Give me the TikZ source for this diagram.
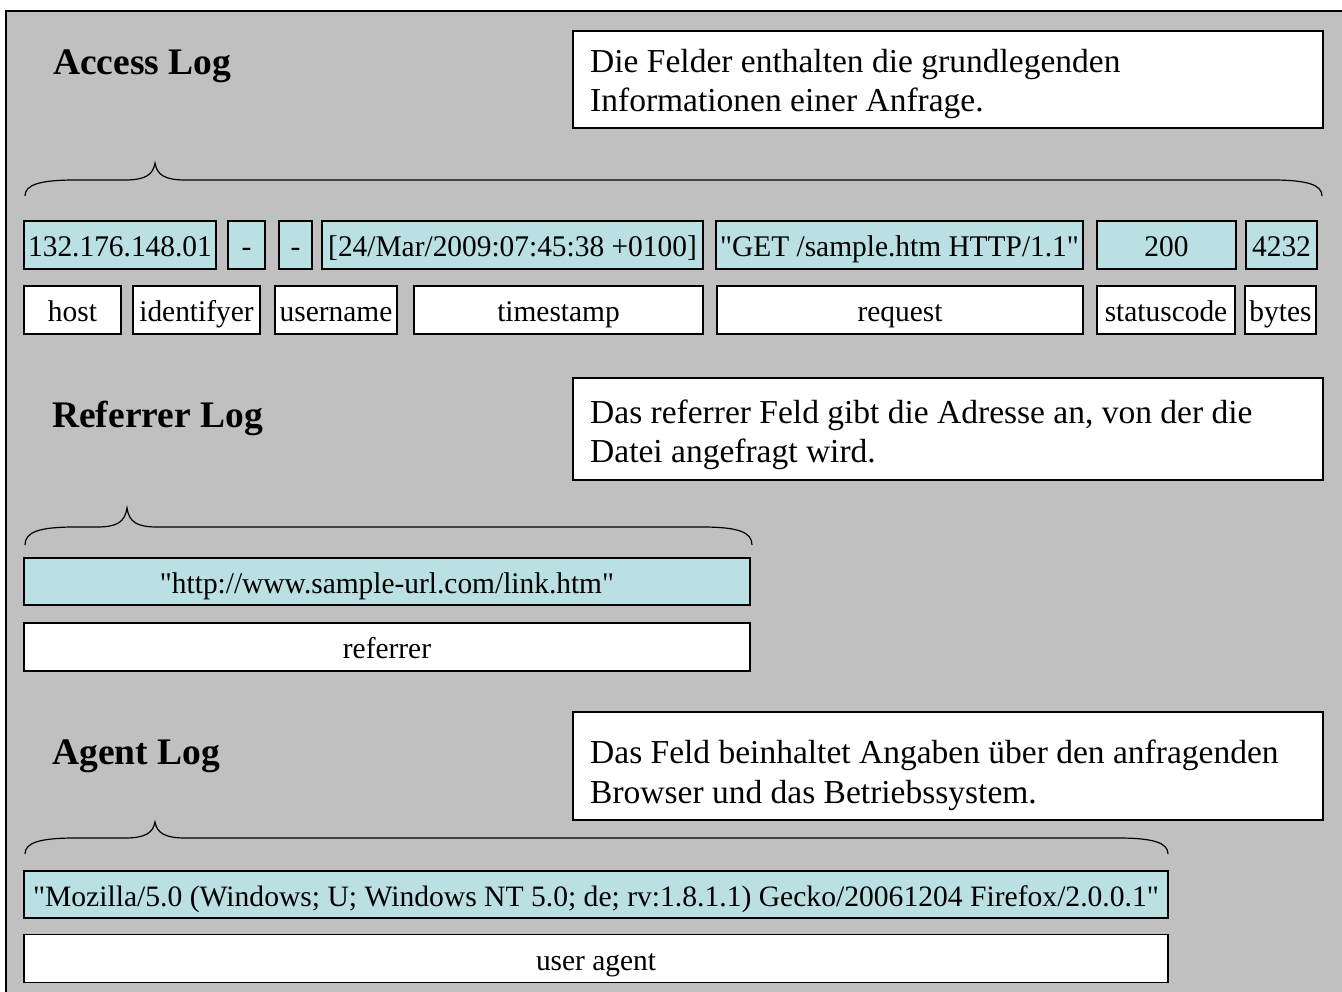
\documentclass[tikz,border=0pt]{standalone}
\usepackage{fontspec}
\setmainfont{Liberation Serif}
\newfontfamily\lblfamily[FakeStretch=0.98]{Liberation Serif}
\newfontfamily\widefamily{Liberation Serif}
\definecolor{framegray}{RGB}{192,192,192}
\definecolor{cyanbg}{RGB}{187,224,227}
\newcommand\lblfont{\lblfamily\fontsize{30}{34}\selectfont}
\newcommand\widelblfont{\widefamily\fontsize{29.6}{34}\selectfont}
\newcommand\dscfont{\fontsize{33.5}{39}\selectfont}
\newcommand\ttlfont{\bfseries\fontsize{37.5}{42}\selectfont}
\newcommand\logbrace[6]{%
  \draw[bracestyle] (#1,#6) .. controls (#1,#5+5) and (#1+14,#5) .. (#1+50,#5)
    -- (#3-30,#5) .. controls (#3-10,#5) and (#3-2,#5-5) .. (#3,#4)
    .. controls (#3+2,#5-5) and (#3+10,#5) .. (#3+30,#5)
    -- (#2-50,#5) .. controls (#2-14,#5) and (#2,#5+5) .. (#2,#6);}
\begin{document}
\begin{tikzpicture}[x=1pt,y=-1pt,
  val/.style={draw=black, line width=1.2pt, fill=cyanbg, inner sep=0pt, minimum height=48pt,
    text height=25pt, text depth=2pt, font=\lblfont},
  fld/.style={val, fill=white},
  descbox/.style={draw=black, line width=1.2pt, fill=white, inner sep=0pt, minimum width=750pt},
  desctext/.style={anchor=base west, inner sep=0pt, font=\dscfont},
  title/.style={anchor=base west, inner sep=0pt, font=\ttlfont},
  bracestyle/.style={draw=black, line width=1.2pt}]
\useasboundingbox (0,0) rectangle (1342,992);
\fill[white] (0,0) rectangle (1342,992);
\fill[framegray] (6,11) rectangle (1342,992);
\draw[line width=2pt] (6,992) -- (6,11) -- (1342,11);

% Access Log
\node[title] (acct) at (53,75) {Access Log};
\node[descbox, minimum height=97pt] (accd) at (948,79.5) {};
\node[desctext] (accd1) at (590,72.5) {Die Felder enthalten die grundlegenden};
\node[desctext] (accd2) at (590,111.5) {Informationen einer Anfrage.};
\logbrace{25}{1322}{155}{163}{180}{196}

\node[val, minimum width=192pt] (ip) at (120,245) {132.176.148.01};
\node[val, minimum width=37pt] (idv) at (246.5,245) {-};
\node[val, minimum width=33pt] (unv) at (295.5,245) {-};
\node[val, minimum width=381pt] (tsv) at (512.5,245) {[24/Mar/2009:07:45:38 +0100]};
\node[val, minimum width=367pt] (rqv) at (899.5,245) {"GET /sample.htm HTTP/1.1"};
\node[val, minimum width=139pt] (stv) at (1166.5,245) {200};
\node[val, minimum width=71pt] (byv) at (1281.5,245) {4232};

\node[fld, minimum width=97pt] (host) at (72.5,310) {host};
\node[fld, minimum width=127pt] (ident) at (196.5,310) {identifyer};
\node[fld, minimum width=122pt] (user) at (336,310) {username};
\node[fld, minimum width=289pt] (tstamp) at (558.5,310) {timestamp};
\node[fld, minimum width=366pt] (req) at (900,310) {request};
\node[fld, minimum width=138pt] (status) at (1166,310) {statuscode};
\node[fld, minimum width=71pt] (bytes) at (1280.5,310) {bytes};

% Referrer Log
\node[title] (reft) at (52,427.5) {Referrer Log};
\node[descbox, minimum height=102pt] (refd) at (948,429) {};
\node[desctext] (refd1) at (590,423) {Das referrer Feld gibt die Adresse an, von der die};
\node[desctext] (refd2) at (590,462) {Datei angefragt wird.};
\logbrace{25}{752}{127}{508}{527}{545}
\node[val, minimum width=726pt, minimum height=47pt] (refv) at (387,581.5) {"http://www.sample-url.com/link.htm"};
\node[fld, minimum width=726pt] (reff) at (387,647) {referrer};

% Agent Log
\node[title] (agt) at (52,764.5) {Agent Log};
\node[descbox, minimum height=108pt] (agd) at (948,766) {};
\node[desctext] (agd1) at (590,763) {Das Feld beinhaltet Angaben über den anfragenden};
\node[desctext] (agd2) at (590,803) {Browser und das Betriebssystem.};
\logbrace{25}{1168}{155}{822}{838}{854}
\node[val, minimum width=1144pt, minimum height=47pt, font=\widelblfont] (agv) at (596,894.5) {"Mozilla/5.0 (Windows; U; Windows NT 5.0; de; rv:1.8.1.1) Gecko/20061204 Firefox/2.0.0.1"};
\node[fld, minimum width=1144pt] (agf) at (596,958.5) {user agent};
\end{tikzpicture}
\end{document}
